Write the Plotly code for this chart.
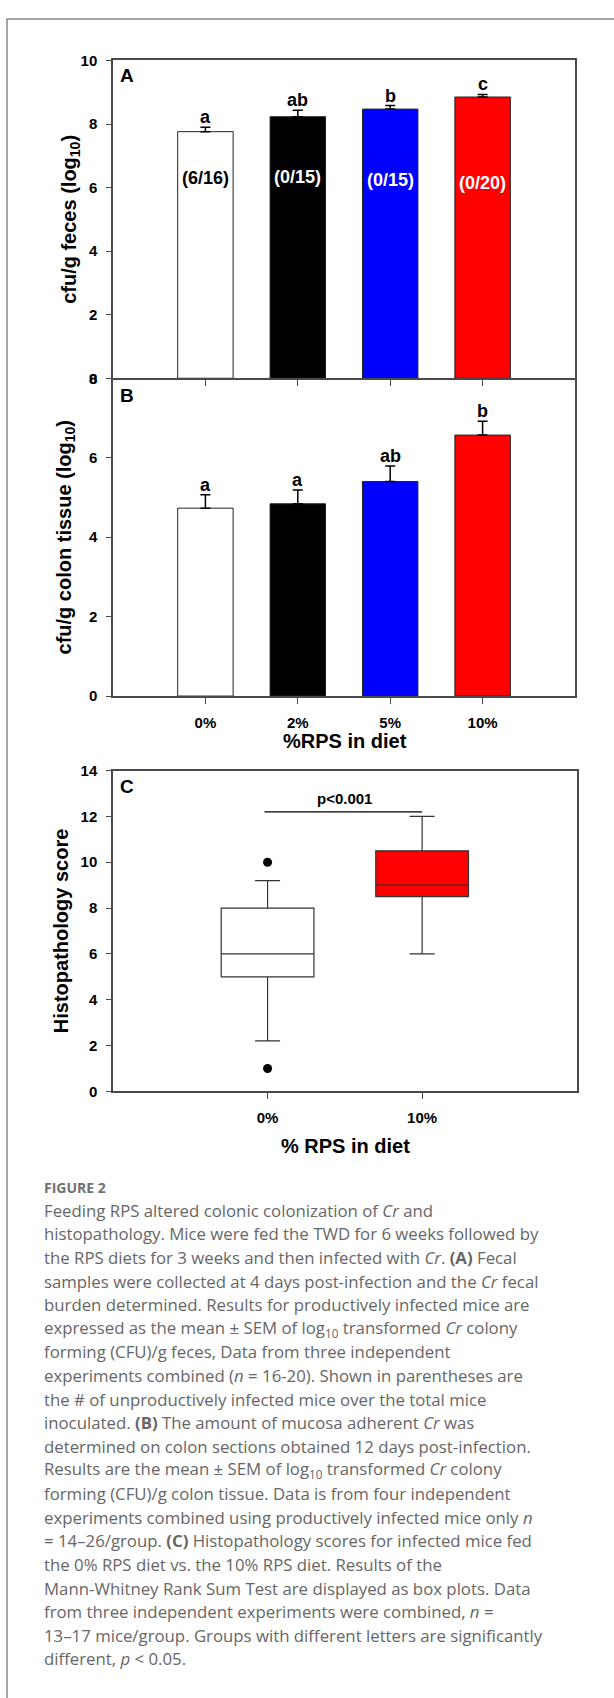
import plotly.graph_objects as go

# ---------------- data ----------------
groups = ["0%", "2%", "5%", "10%"]
bar_colors = ["#ffffff", "#000000", "#0000ff", "#ff0000"]
inside_text_colors = ["#000000", "#ffffff", "#ffffff", "#ffffff"]

feces_mean = [7.76, 8.23, 8.47, 8.85]
feces_sem = [0.14, 0.20, 0.11, 0.08]
feces_letters = ["a", "ab", "b", "c"]
unproductive = ["(6/16)", "(0/15)", "(0/15)", "(0/20)"]
unproductive_y = [6.30, 6.32, 6.25, 6.15]

colon_mean = [4.73, 4.84, 5.40, 6.57]
colon_sem = [0.34, 0.35, 0.39, 0.35]
colon_letters = ["a", "a", "ab", "b"]

box_groups = ["0%", "10%"]
box_q1 = [5.0, 8.5]
box_median = [6.0, 9.0]
box_q3 = [8.0, 10.5]
box_low = [2.2, 6.0]
box_high = [9.2, 12.0]
box_colors = ["#ffffff", "#ff0000"]
outlier_x = ["0%", "0%"]
outlier_y = [10.0, 1.0]
p_text = "p<0.001"
p_line_y = 12.2

caption_title = "FIGURE 2"
caption_lines = [
    "Feeding RPS altered colonic colonization of <i>Cr</i> and",
    "histopathology. Mice were fed the TWD for 6 weeks followed by",
    "the RPS diets for 3 weeks and then infected with <i>Cr</i>. <b>(A)</b> Fecal",
    "samples were collected at 4 days post-infection and the <i>Cr</i> fecal",
    "burden determined. Results for productively infected mice are",
    "expressed as the mean ± SEM of log<sub>10</sub> transformed <i>Cr</i> colony",
    "forming (CFU)/g feces, Data from three independent",
    "experiments combined (<i>n</i> = 16-20). Shown in parentheses are",
    "the # of unproductively infected mice over the total mice",
    "inoculated. <b>(B)</b> The amount of mucosa adherent <i>Cr</i> was",
    "determined on colon sections obtained 12 days post-infection.",
    "Results are the mean ± SEM of log<sub>10</sub> transformed <i>Cr</i> colony",
    "forming (CFU)/g colon tissue. Data is from four independent",
    "experiments combined using productively infected mice only <i>n</i>",
    "= 14–26/group. <b>(C)</b> Histopathology scores for infected mice fed",
    "the 0% RPS diet vs. the 10% RPS diet. Results of the",
    "Mann-Whitney Rank Sum Test are displayed as box plots. Data",
    "from three independent experiments were combined, <i>n</i> =",
    "13–17 mice/group. Groups with different letters are significantly",
    "different, <i>p</i> < 0.05.",
]

# ---------------- layout helpers ----------------
W, H = 614, 1698
FONT = "Liberation Sans, Arial, sans-serif"
AXC = "#4a4a4a"


def px_x(v):
    return v / W


def px_y(v):
    return 1 - v / H


fig = go.Figure()

err_common = dict(type="data", symmetric=False, color="#000000", thickness=1.5, width=5)

fig.add_trace(go.Bar(
    x=groups, y=feces_mean, width=0.6,
    marker=dict(color=bar_colors, line=dict(color="#222222", width=1)),
    error_y=dict(array=feces_sem, arrayminus=[0] * len(groups), **err_common),
    xaxis="x", yaxis="y", showlegend=False, hoverinfo="skip",
))
fig.add_trace(go.Bar(
    x=groups, y=colon_mean, width=0.6,
    marker=dict(color=bar_colors, line=dict(color="#222222", width=1)),
    error_y=dict(array=colon_sem, arrayminus=[0] * len(groups), **err_common),
    xaxis="x2", yaxis="y2", showlegend=False, hoverinfo="skip",
))

for i, g in enumerate(box_groups):
    fig.add_trace(go.Box(
        x=[g], q1=[box_q1[i]], median=[box_median[i]], q3=[box_q3[i]],
        lowerfence=[box_low[i]], upperfence=[box_high[i]],
        fillcolor=box_colors[i], line=dict(color="#333333", width=1.2),
        width=0.6, whiskerwidth=0.27, boxpoints=False,
        xaxis="x3", yaxis="y3", showlegend=False, hoverinfo="skip",
    ))
fig.add_trace(go.Scatter(
    x=outlier_x, y=outlier_y, mode="markers",
    marker=dict(color="#000000", size=9),
    xaxis="x3", yaxis="y3", showlegend=False, hoverinfo="skip",
))

tickfont = dict(family=FONT, size=15, color="#000000", weight="bold")
axis_common = dict(showline=True, linecolor=AXC, linewidth=1.5,
                   showgrid=False, zeroline=False, tickfont=tickfont,
                   ticks="outside", tickcolor=AXC, tickwidth=1.2)

fig.update_layout(
    width=W, height=H,
    margin=dict(l=0, r=0, t=0, b=0),
    paper_bgcolor="white", plot_bgcolor="white",
    bargap=0.4, boxmode="overlay",
    xaxis=dict(domain=[px_x(113), px_x(575)], anchor="y", type="category",
               categoryorder="array", categoryarray=groups, range=[-1, 4],
               showticklabels=False, ticklen=6, mirror=True, **axis_common),
    yaxis=dict(domain=[px_y(373), px_y(52)], anchor="x", range=[0, 10],
               tickvals=[0, 2, 4, 6, 8, 10], ticklen=5, ticklabelstandoff=6,
               mirror=True, **axis_common),
    xaxis2=dict(domain=[px_x(113), px_x(575)], anchor="y2", type="category",
                categoryorder="array", categoryarray=groups, range=[-1, 4],
                ticklen=6, ticklabelstandoff=6, mirror=False, **axis_common),
    yaxis2=dict(domain=[px_y(694), px_y(373)], anchor="x2", range=[0, 8],
                tickvals=[0, 2, 4, 6, 8], ticklen=5, ticklabelstandoff=6,
                mirror=True, **axis_common),
    xaxis3=dict(domain=[px_x(113), px_x(576.7)], anchor="y3", type="category",
                categoryorder="array", categoryarray=box_groups, range=[-1, 2],
                ticklen=6, ticklabelstandoff=6, mirror=True, **axis_common),
    yaxis3=dict(domain=[px_y(1093.3), px_y(769.3)], anchor="x3", range=[0, 14],
                tickvals=list(range(0, 15, 2)), ticklen=5, ticklabelstandoff=6,
                mirror=True, **axis_common),
)

ann = []


def bold(s, c="#000000"):
    return dict(family=FONT, size=s, color=c, weight="bold")


# significance letters and counts
for i, g in enumerate(groups):
    ann.append(dict(x=g, y=feces_mean[i] + feces_sem[i], xref="x", yref="y",
                    text=feces_letters[i], showarrow=False, yanchor="bottom",
                    font=bold(18), yshift=-2))
    ann.append(dict(x=g, y=unproductive_y[i], xref="x", yref="y",
                    text=unproductive[i], showarrow=False, yanchor="middle",
                    font=bold(18, inside_text_colors[i])))
    ann.append(dict(x=g, y=colon_mean[i] + colon_sem[i], xref="x2", yref="y2",
                    text=colon_letters[i], showarrow=False, yanchor="bottom",
                    font=bold(18), yshift=-2))

# panel letters
for letter, top in (("A", 55), ("B", 378), ("C", 773)):
    ann.append(dict(x=px_x(118), y=px_y(top), xref="paper", yref="paper",
                    text=letter, showarrow=False, xanchor="left", yanchor="top",
                    font=bold(19)))

# axis titles
ann.append(dict(x=px_x(70.5), y=px_y(212.5), xref="paper", yref="paper",
                text="cfu/g feces (log<sub>10</sub>)", textangle=-90, showarrow=False,
                xanchor="center", yanchor="middle", font=bold(20)))
ann.append(dict(x=px_x(65), y=px_y(533.8), xref="paper", yref="paper",
                text="cfu/g colon tissue (log<sub>10</sub>)", textangle=-90, showarrow=False,
                xanchor="center", yanchor="middle", font=bold(20)))
ann.append(dict(x=px_x(61), y=px_y(931.5), xref="paper", yref="paper",
                text="Histopathology score", textangle=-90, showarrow=False,
                xanchor="center", yanchor="middle", font=bold(20)))
ann.append(dict(x=px_x(345), y=px_y(739.3), xref="paper", yref="paper",
                text="%RPS in diet", showarrow=False,
                xanchor="center", yanchor="middle", font=bold(20)))
ann.append(dict(x=px_x(345), y=px_y(1148.3), xref="paper", yref="paper",
                text="% RPS in diet", showarrow=False,
                xanchor="center", yanchor="middle", font=bold(20)))

# p-value
ann.append(dict(x=0.5, y=p_line_y, xref="x3", yref="y3", text=p_text,
                showarrow=False, yanchor="bottom", yshift=3, font=bold(15)))

# caption
cap_font = dict(family="Open Sans, Lato, sans-serif", size=16.8, color="#666666")
ann.append(dict(x=px_x(42), y=px_y(1190), xref="paper", yref="paper",
                text=caption_title, showarrow=False, xanchor="left", yanchor="middle",
                font=dict(family="Open Sans, sans-serif", size=14, color="#707070",
                          weight="bold")))
for k, line in enumerate(caption_lines):
    ann.append(dict(x=px_x(42), y=px_y(1213.3 + k * 23.86), xref="paper", yref="paper",
                    text=line, showarrow=False, xanchor="left", yanchor="middle",
                    font=cap_font))

fig.update_layout(annotations=ann)

shapes = [
    dict(type="line", xref="x3", yref="y3", x0=-0.02, x1=1.0, y0=p_line_y, y1=p_line_y,
         line=dict(color="#000000", width=1.3)),
    dict(type="rect", xref="paper", yref="paper", x0=px_x(7), x1=1.05,
         y0=-0.05, y1=px_y(10), line=dict(color="#888888", width=1.5)),
]
fig.update_layout(shapes=shapes)

fig.write_html("out.html")
